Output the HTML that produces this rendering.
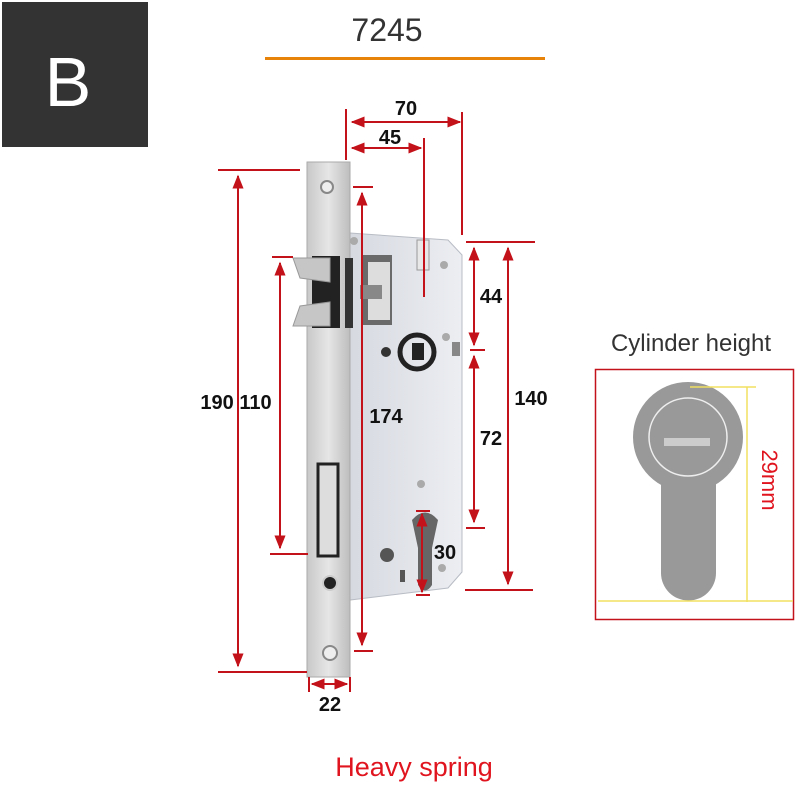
<!DOCTYPE html>
<html><head><style>
body{margin:0;background:#fff;width:800px;height:800px;overflow:hidden}
svg{display:block}
text{font-family:"Liberation Sans",sans-serif}
</style></head><body>
<svg width="800" height="800" viewBox="0 0 800 800" xmlns="http://www.w3.org/2000/svg">
<defs>
<marker id="a" viewBox="0 0 10 10" refX="9" refY="5" markerWidth="7" markerHeight="7" orient="auto-start-reverse"><path d="M0,1 L10,5 L0,9 z" fill="#c4121a"/></marker>
<linearGradient id="fp" x1="0" x2="1"><stop offset="0" stop-color="#c8c8c8"/><stop offset="0.5" stop-color="#e6e6e6"/><stop offset="1" stop-color="#bdbdbd"/></linearGradient>
<linearGradient id="cs" x1="0" x2="1"><stop offset="0" stop-color="#d6d9e0"/><stop offset="1" stop-color="#eceef2"/></linearGradient>
</defs>
<rect x="2" y="2" width="146" height="145" fill="#333"/>
<text x="68" y="106" font-size="70" fill="#fff" text-anchor="middle">B</text>
<text x="387" y="41" font-size="32" fill="#333" text-anchor="middle">7245</text>
<rect x="265" y="57" width="280" height="3" fill="#e8830a"/>

<path d="M350,233 L448,240 L462,255 L462,572 L448,588 L350,600 Z" fill="url(#cs)" stroke="#b8bcc4"/>
<rect x="362" y="255" width="30" height="70" fill="#6a6a6a"/>
<rect x="368" y="262" width="22" height="58" fill="#ddd"/>
<circle cx="417" cy="352" r="17" fill="none" stroke="#222" stroke-width="5"/>
<rect x="412" y="343" width="12" height="17" fill="#222"/>
<circle cx="386" cy="352" r="5" fill="#333"/>
<rect x="452" y="342" width="8" height="14" fill="#888"/>
<circle cx="354" cy="241" r="4" fill="#aaa"/><circle cx="444" cy="265" r="4" fill="#aaa"/>
<circle cx="446" cy="337" r="4" fill="#aaa"/><circle cx="421" cy="484" r="4" fill="#aaa"/>
<path d="M412,520 Q425,505 438,520 L432,548 L432,585 Q425,596 418,585 L418,548 Z" fill="#666"/>
<circle cx="387" cy="555" r="7" fill="#555"/><circle cx="442" cy="568" r="4" fill="#aaa"/>
<rect x="400" y="570" width="5" height="12" fill="#555"/>
<rect x="417" y="240" width="12" height="30" fill="#e8e8e8" stroke="#999"/>

<rect x="307" y="162" width="43" height="515" fill="url(#fp)" stroke="#aaa"/>
<circle cx="327" cy="187" r="6" fill="#eee" stroke="#888" stroke-width="2"/>
<circle cx="330" cy="583" r="7" fill="#222" stroke="#ccc" stroke-width="2"/>
<circle cx="330" cy="653" r="7" fill="#eee" stroke="#888" stroke-width="2"/>
<rect x="318" y="464" width="20" height="92" fill="#ddd" stroke="#222" stroke-width="3"/>
<rect x="312" y="256" width="28" height="72" fill="#222"/>
<path d="M293,258 L330,258 L330,282 L300,278 Z" fill="#c6c6c6" stroke="#999"/>
<path d="M293,326 L330,326 L330,302 L300,306 Z" fill="#c6c6c6" stroke="#999"/>
<rect x="345" y="258" width="8" height="70" fill="#333"/>
<rect x="360" y="285" width="22" height="14" fill="#888"/>

<g stroke="#c4121a" stroke-width="2" fill="none">
<line x1="218" y1="170" x2="300" y2="170"/><line x1="218" y1="672" x2="307" y2="672"/>
<line x1="238" y1="176" x2="238" y2="666" marker-start="url(#a)" marker-end="url(#a)"/>
<line x1="272" y1="257" x2="293" y2="257"/><line x1="270" y1="554" x2="308" y2="554"/>
<line x1="280" y1="263" x2="280" y2="548" marker-start="url(#a)" marker-end="url(#a)"/>
<line x1="353" y1="187" x2="373" y2="187"/><line x1="354" y1="651" x2="373" y2="651"/>
<line x1="362" y1="193" x2="362" y2="645" marker-start="url(#a)" marker-end="url(#a)"/>
<line x1="346" y1="109" x2="346" y2="160"/><line x1="462" y1="112" x2="462" y2="235"/>
<line x1="352" y1="122" x2="460" y2="122" marker-start="url(#a)" marker-end="url(#a)"/>
<line x1="352" y1="148" x2="421" y2="148" marker-start="url(#a)" marker-end="url(#a)"/>
<line x1="424" y1="138" x2="424" y2="297"/>
<line x1="466" y1="242" x2="535" y2="242"/><line x1="470" y1="350" x2="485" y2="350"/>
<line x1="474" y1="248" x2="474" y2="345" marker-start="url(#a)" marker-end="url(#a)"/>
<line x1="474" y1="356" x2="474" y2="522" marker-start="url(#a)" marker-end="url(#a)"/>
<line x1="466" y1="528" x2="485" y2="528"/>
<line x1="508" y1="248" x2="508" y2="584" marker-start="url(#a)" marker-end="url(#a)"/>
<line x1="465" y1="590" x2="533" y2="590"/>
<line x1="422" y1="514" x2="422" y2="592" marker-start="url(#a)" marker-end="url(#a)"/>
<line x1="416" y1="511" x2="430" y2="511"/><line x1="416" y1="595" x2="430" y2="595"/>
<line x1="309" y1="677" x2="309" y2="692"/><line x1="350" y1="677" x2="350" y2="692"/>
<line x1="312" y1="684" x2="347" y2="684" marker-start="url(#a)" marker-end="url(#a)"/>
</g>
<g font-size="20" fill="#111" text-anchor="middle" font-weight="bold">
<text x="406" y="115">70</text><text x="390" y="144">45</text>
<text x="491" y="303">44</text><text x="531" y="405">140</text>
<text x="491" y="445">72</text><text x="386" y="423">174</text>
<text x="236" y="409">190 110</text>
<text x="445" y="559">30</text><text x="330" y="711">22</text>
</g>

<text x="414" y="776" font-size="27" fill="#e0141e" text-anchor="middle">Heavy spring</text>
<text x="691" y="351" font-size="24" fill="#333" text-anchor="middle">Cylinder height</text>
<rect x="595.5" y="369.5" width="198" height="250" fill="none" stroke="#c4121a" stroke-width="1.5"/>
<circle cx="688" cy="437" r="55" fill="#999"/>
<rect x="661" y="470" width="55" height="103" fill="#999"/>
<circle cx="688.5" cy="573" r="27.5" fill="#999"/>
<circle cx="688" cy="437" r="39" fill="none" stroke="#eee" stroke-width="1.5"/>
<rect x="664" y="438" width="46" height="8" fill="#ccc"/>
<g stroke="#f0e060" stroke-width="1.5">
<line x1="690" y1="387" x2="756" y2="387"/><line x1="747" y1="387" x2="747" y2="602"/>
<line x1="598" y1="601" x2="793" y2="601"/>
</g>
<text transform="translate(762,480) rotate(90)" font-size="22" fill="#e0141e" text-anchor="middle">29mm</text>
</svg>
</body></html>
